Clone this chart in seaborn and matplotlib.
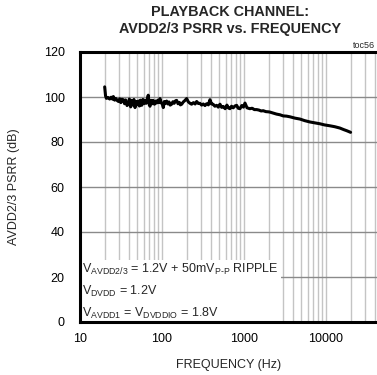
import numpy as np
import pandas as pd
import seaborn as sns
import matplotlib
matplotlib.use("Agg")
import matplotlib.pyplot as plt
from matplotlib.ticker import LogLocator, NullFormatter

# PSRR curve (Hz, dB)
freq = [20, 20.5, 21, 22, 23, 24, 25, 25.5, 26.5, 27.5, 28.5, 29.5, 30.5, 31.5, 32.5, 33.7,
        35, 36, 37.5, 38.8, 40, 41.5, 42.7, 44, 45.5, 46.9, 48.5, 50, 51.4, 53, 54.5, 56.5,
        58.5, 60, 62, 64, 66, 68, 70, 71.4, 74, 76, 78, 81, 83.5, 86, 89, 92, 94.6, 98,
        101, 103.8, 107, 110, 114, 118, 122, 126, 131, 136, 141, 146, 151, 157, 163, 168,
        174, 182, 190,
        200, 210, 220, 230, 242, 254, 265, 278, 290, 305, 319, 335, 350, 368, 385, 402,
        420, 442, 464,
        486, 510, 535, 560, 590, 620, 648, 675, 706, 740, 776, 815, 852, 894, 940, 985,
        1030,
        1090, 1180, 1260, 1340, 1430, 1520, 1620, 1720, 1850, 2000, 2070, 2250, 2500, 2750,
        3010, 3300, 3640, 4200, 4820, 5500, 6380, 7300, 8450, 9600, 11200, 12800, 14800,
        16500, 18000, 20000]
psrr = [104.5, 100.5, 99.4, 99.8, 99.1, 99.9, 99.0, 100.2, 98.6, 99.3, 98.4, 98.0, 99.2,
        97.5, 99.0, 98.8,
        97.0, 98.7, 96.2, 96.8, 99.1, 95.6, 98.5, 96.5, 98.9, 95.3, 98.0, 96.6, 98.2, 96.0,
        98.6, 96.3,
        98.9, 97.0, 98.5, 97.2, 98.9, 100.8, 96.5, 95.9, 98.5, 97.0, 98.5, 96.8, 98.2, 97.3,
        98.6, 97.5, 99.3, 97.4,
        96.8, 95.3, 98.0, 97.2, 98.2, 96.9, 97.8, 96.4, 96.8, 97.9, 97.2, 98.3, 98.5, 97.0,
        97.6, 96.5, 96.8, 97.8, 98.4,
        99.3, 97.8, 97.2, 96.8, 97.5, 96.9, 98.0, 97.1, 97.2, 96.4, 96.9, 96.2, 97.0, 96.5,
        98.8, 96.9, 96.8, 95.9, 96.3,
        95.5, 96.8, 95.4, 95.8, 94.8, 96.4, 95.1, 94.8, 95.9, 95.2, 96.0, 96.3, 95.0, 94.8,
        96.2, 95.5, 97.3,
        95.2, 94.8, 95.0, 94.4, 94.4, 94.2, 93.8, 93.9, 93.5, 93.4, 93.3, 92.9, 92.4, 92.1,
        91.6, 91.5, 91.2, 90.6, 90.2, 89.5, 88.9, 88.5, 88.1, 87.6, 87.2, 86.8, 86.2,
        85.5, 85.0, 84.3]
x_ticks = [10, 100, 1000, 10000]
x_labels = ["10", "100", "1000", "10000"]
y_ticks = [0, 20, 40, 60, 80, 100, 120]

sns.set_theme(style="white")
plt.rcParams["font.family"] = ["Liberation Sans", "DejaVu Sans"]
plt.rcParams["mathtext.fontset"] = "custom"
plt.rcParams["mathtext.rm"] = "Liberation Sans"

fig = plt.figure(figsize=(3.77, 3.75), dpi=100)
ax = fig.add_axes([80 / 377, 1 - 322 / 375, 297 / 377, 270 / 375])

df = pd.DataFrame({"freq": freq, "psrr": psrr})
sns.lineplot(data=df, x="freq", y="psrr", color="black", lw=2.2, ax=ax,
             estimator=None, sort=False, zorder=4)

ax.set_xscale("log")
ax.set_xlim(10, 42000)
ax.set_ylim(0, 120)
ax.set_xticks(x_ticks)
ax.set_xticklabels(x_labels)
ax.set_yticks(y_ticks)
ax.xaxis.set_minor_locator(LogLocator(base=10, subs=range(2, 10)))
ax.xaxis.set_minor_formatter(NullFormatter())
ax.grid(which="both", axis="x", color="#c4c4c4", lw=1)
ax.grid(which="major", axis="y", color="#8a8a8a", lw=1)
ax.set_axisbelow(True)
ax.tick_params(which="both", length=0, labelsize=9, colors="black")
ax.tick_params(axis="y", pad=11)
ax.tick_params(axis="x", pad=8)
for s in ["left", "bottom", "top"]:
    ax.spines[s].set_linewidth(2.2)
    ax.spines[s].set_color("black")
ax.spines["right"].set_visible(False)

ax.set_xlabel("FREQUENCY (Hz)", fontsize=9, labelpad=10)
ax.set_ylabel("AVDD2/3 PSRR (dB)", fontsize=9, labelpad=17)

note = ("V$_{\\mathrm{AVDD2/3}}$ = 1.2V + 50mV$_{\\mathrm{P\u2010P}}$ RIPPLE\n"
        "V$_{\\mathrm{DVDD}}$ = 1.2V\n"
        "V$_{\\mathrm{AVDD1}}$ = V$_{\\mathrm{DVDDIO}}$ = 1.8V")
ax.text(0.007, 0.004, note, transform=ax.transAxes, ha="left", va="bottom",
        fontsize=9, linespacing=1.62, zorder=2,
        bbox=dict(facecolor="white", edgecolor="none", pad=1.5))

fig.text(230 / 377, 1 - 5 / 375, "PLAYBACK CHANNEL:\nAVDD2/3 PSRR vs. FREQUENCY",
         ha="center", va="top", fontsize=10.4, fontweight="bold", linespacing=1.3)
fig.text(375 / 377, 1 - 50 / 375, "toc56", ha="right", va="bottom", fontsize=6.5)

fig.savefig("out.png", dpi=100)
